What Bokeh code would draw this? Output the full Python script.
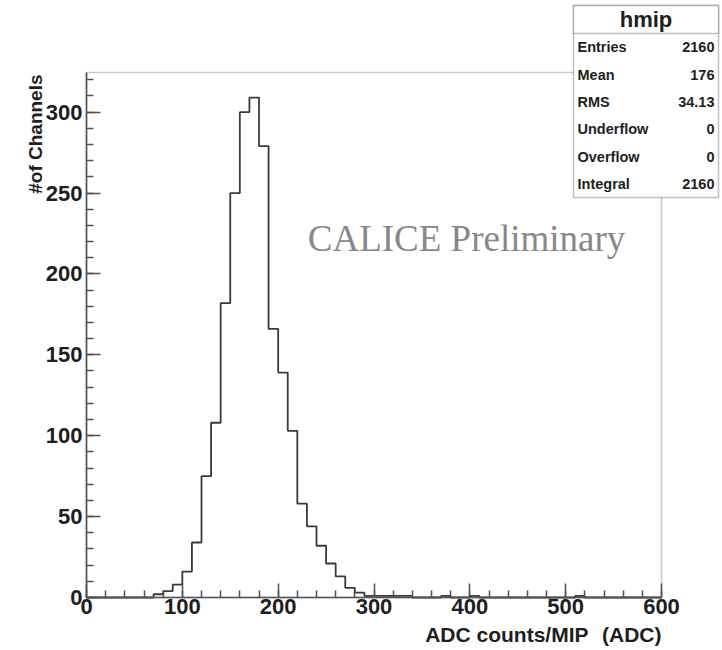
from bokeh.plotting import figure
from bokeh.models import (Range1d, LinearAxis, Label, BoxAnnotation,
                          SingleIntervalTicker)
from bokeh.embed import file_html
from bokeh.resources import INLINE

# ---- data ----
bin_edges = list(range(0, 610, 10))
counts = [0, 0, 0, 0, 0, 0, 0,
          2, 4, 8, 16, 34, 75, 108, 182, 250, 300, 309, 279, 166,
          139, 103, 58, 44, 32, 21, 13, 6, 3, 1,
          1, 1, 1, 1, 0, 0, 0, 1, 0, 0,
          1, 0, 0, 0, 0, 0, 0, 0, 0, 0,
          0, 1, 0, 0, 0, 0, 0, 0, 0, 0]
x_lim = (0, 600)
y_lim = (0, 324.5)
hist_name = "hmip"
stat_names = ["Entries", "Mean", "RMS", "Underflow", "Overflow", "Integral"]
stat_values = ["2160", "176", "34.13", "0", "0", "2160"]
x_title_parts = ["ADC counts/MIP", "(ADC)"]
y_title = "#of Channels"
watermark = "CALICE Preliminary"

# ---- layout (canvas pixels) ----
W, H = 722, 650
FL, FR, FT, FB = 86, 661, 72, 597   # ROOT frame edges on the canvas

FRAME_C = "#505050"
LINE_C = "#3a3a3a"
TXT_C = "#1e1e1e"
SANS = "Liberation Sans"

# data ranges extended so that the plot frame fills the whole canvas
xs_per_px = (x_lim[1] - x_lim[0]) / (FR - FL)
ys_per_px = (y_lim[1] - y_lim[0]) / (FB - FT)
x_range = Range1d(x_lim[0] - FL * xs_per_px, x_lim[1] + (W - FR) * xs_per_px)
y_range = Range1d(y_lim[0] - (H - FB) * ys_per_px, y_lim[1] + FT * ys_per_px)

p = figure(width=W, height=H, output_backend="svg", toolbar_location=None,
           x_range=x_range, y_range=y_range,
           min_border=0, x_axis_location=None, y_axis_location=None)
p.grid.visible = False
p.outline_line_color = None
p.background_fill_color = "white"
p.border_fill_color = "white"


def style_axis(ax, interval):
    ax.ticker = SingleIntervalTicker(interval=interval, num_minor_ticks=5)
    ax.axis_line_color = FRAME_C
    ax.axis_line_width = 1.6
    ax.major_tick_line_color = FRAME_C
    ax.minor_tick_line_color = FRAME_C
    ax.major_tick_line_width = 1.5
    ax.minor_tick_line_width = 1.5
    ax.major_tick_in = 14
    ax.major_tick_out = 0
    ax.minor_tick_in = 7
    ax.minor_tick_out = 0
    ax.major_label_text_font = SANS
    ax.major_label_text_font_style = "bold"
    ax.major_label_text_font_size = "22px"
    ax.major_label_text_color = TXT_C


xax = LinearAxis(fixed_location=y_lim[0], bounds=x_lim)
style_axis(xax, 100)
xax.major_label_standoff = 1
p.add_layout(xax, "below")

yax = LinearAxis(fixed_location=x_lim[0], bounds=y_lim)
style_axis(yax, 50)
yax.major_label_standoff = 4
p.add_layout(yax, "left")

# frame (top / right edges)
p.add_layout(BoxAnnotation(left=x_lim[0], right=x_lim[1], bottom=y_lim[0], top=y_lim[1],
                           fill_alpha=0, line_color=FRAME_C, line_width=1.6,
                           level="underlay"))

# histogram outline
xs = bin_edges
ys = counts + [counts[-1]]
p.step(xs, ys, mode="after", line_color=LINE_C, line_width=1.8)


def fy(cy):  # canvas y (downwards) -> screen y (upwards from bottom)
    return H - cy


# watermark
p.add_layout(Label(x=466, y=fy(238), x_units="screen", y_units="screen",
                   text=watermark, text_font="Liberation Serif",
                   text_font_size="37px", text_color="#888888",
                   text_align="center", text_baseline="middle"))

# axis titles
p.add_layout(Label(x=588, y=fy(634), x_units="screen", y_units="screen",
                   text=x_title_parts[0], text_font=SANS, text_font_style="bold",
                   text_font_size="21px", text_color=TXT_C,
                   text_align="right", text_baseline="middle"))
p.add_layout(Label(x=661, y=fy(634), x_units="screen", y_units="screen",
                   text=x_title_parts[1], text_font=SANS, text_font_style="bold",
                   text_font_size="21px", text_color=TXT_C,
                   text_align="right", text_baseline="middle"))
p.add_layout(Label(x=35, y=fy(74), x_units="screen", y_units="screen",
                   text=y_title, text_font=SANS, text_font_style="bold",
                   text_font_size="19px", text_color=TXT_C, angle=1.5707963,
                   text_align="right", text_baseline="middle"))

# stats box
BL, BR, BT, BB, BH = 573, 718, 5, 197, 33
p.add_layout(BoxAnnotation(left=BL, right=BR, top=fy(BT), bottom=fy(BB),
                           left_units="screen", right_units="screen",
                           top_units="screen", bottom_units="screen",
                           fill_color="white", fill_alpha=1.0,
                           line_color="#303030", line_width=1.5, level="overlay"))
p.add_layout(BoxAnnotation(left=BL, right=BR, top=fy(BT), bottom=fy(BH),
                           left_units="screen", right_units="screen",
                           top_units="screen", bottom_units="screen",
                           fill_color="white", fill_alpha=1.0,
                           line_color="#303030", line_width=1.5, level="overlay"))
p.add_layout(Label(x=(BL + BR) / 2, y=fy(19), x_units="screen", y_units="screen",
                   text=hist_name, text_font=SANS, text_font_style="bold",
                   text_font_size="22px", text_color=TXT_C,
                   text_align="center", text_baseline="middle", level="overlay"))
row_h = (BB - BH) / len(stat_names)
for i, (nm, vl) in enumerate(zip(stat_names, stat_values)):
    cy = BH + row_h * (i + 0.5)
    p.add_layout(Label(x=577, y=fy(cy), x_units="screen", y_units="screen",
                       text=nm, text_font=SANS, text_font_style="bold",
                       text_font_size="14.5px", text_color=TXT_C,
                       text_align="left", text_baseline="middle", level="overlay"))
    p.add_layout(Label(x=714, y=fy(cy), x_units="screen", y_units="screen",
                       text=vl, text_font=SANS, text_font_style="bold",
                       text_font_size="14.5px", text_color=TXT_C,
                       text_align="right", text_baseline="middle", level="overlay"))

open("out.html", "w").write(file_html(p, INLINE))
